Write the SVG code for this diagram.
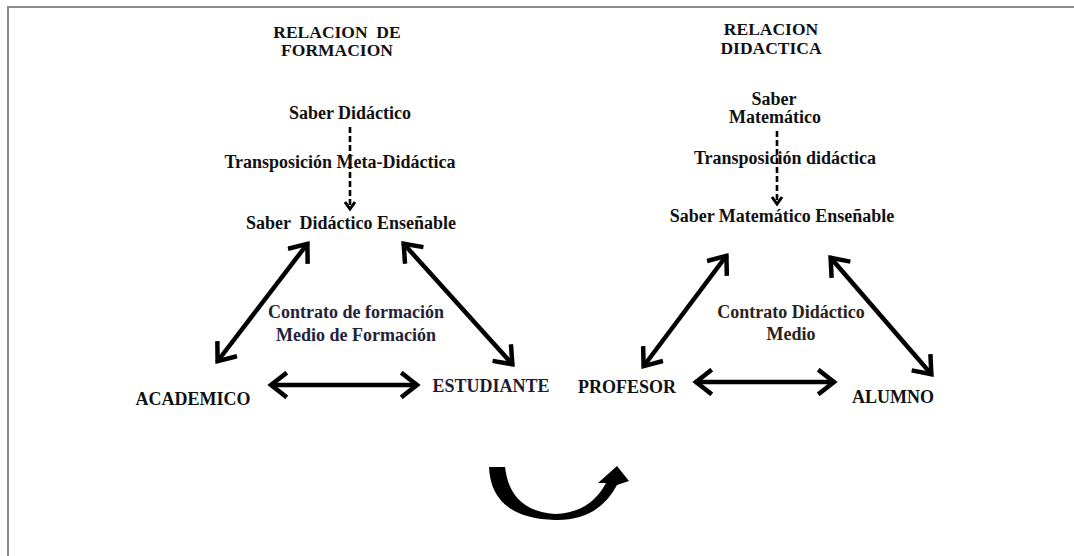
<svg xmlns="http://www.w3.org/2000/svg" width="1074" height="556" viewBox="0 0 1074 556">
<defs>
<style>
text{font-family:"Liberation Serif","Times New Roman",serif;font-weight:bold;fill:#111;text-anchor:middle;white-space:pre}
.t{font-size:17.5px}
.n{font-size:18px}
.thick{stroke:#000;stroke-width:4.5;fill:none;marker-start:url(#chev);marker-end:url(#chev)}
.dash{stroke:#000;stroke-width:2.6;fill:none;stroke-dasharray:6 3;marker-end:url(#dhead)}
.frame{stroke:#8a8a8a;stroke-width:2;fill:none}
</style>
<marker id="chev" viewBox="-20 -14 24 28" markerWidth="24" markerHeight="28" refX="0" refY="0" orient="auto-start-reverse" markerUnits="userSpaceOnUse">
<path d="M-15,-11 L-1,0 L-15,11" fill="none" stroke="#000" stroke-width="4.5" stroke-linejoin="miter" stroke-linecap="square"/>
</marker>
<marker id="dhead" viewBox="-10 -7 12 14" markerWidth="12" markerHeight="14" refX="0" refY="0" orient="auto" markerUnits="userSpaceOnUse">
<path d="M-7,-5 L0,0 L-7,5" fill="none" stroke="#000" stroke-width="3"/>
</marker>
</defs>
<rect width="1074" height="556" fill="#fff"/>
<path class="frame" d="M8,556 V7 H1074"/>

<g id="connectors">
<path class="dash" d="M350,127 V209"/>
<path class="dash" d="M777,131 V204"/>
<path class="thick" d="M217,362 L308,243"/>
<path class="thick" d="M403,243 L513,365"/>
<path class="thick" d="M270,385 L418,385"/>
<path class="thick" d="M643,367 L727,255"/>
<path class="thick" d="M830,257 L932,375"/>
<path class="thick" d="M695,382 L835,382"/>
<path id="cycle" fill="#000" d="M489,467 L505,467 Q510,511 555,514 Q590,513 606,483 L598,483 L617,466 L629,481 L617,485 Q598,521 555,520 Q491,518 489,467 Z"/>
</g>

<g id="title-formacion">
<text class="t" x="337" y="38" xml:space="preserve">RELACION  DE</text>
<text class="t" x="337" y="56">FORMACION</text>
</g>
<g id="title-didactica">
<text class="t" x="771" y="35">RELACION</text>
<text class="t" x="771" y="54">DIDACTICA</text>
</g>
<g id="saber-didactico"><text class="n" x="350" y="119">Saber Didáctico</text></g>
<g id="transp-meta"><text class="n" x="340" y="168">Transposición Meta-Didáctica</text></g>
<g id="saber-didactico-ens"><text class="n" x="351" y="229" xml:space="preserve">Saber  Didáctico Enseñable</text></g>
<g id="saber-matematico">
<text class="n" x="774" y="105">Saber</text>
<text class="n" x="775" y="123">Matemático</text>
</g>
<g id="transp-didactica"><text class="n" x="785" y="164">Transposición didáctica</text></g>
<g id="saber-matematico-ens"><text class="n" x="782" y="222">Saber Matemático Enseñable</text></g>
<g id="contrato-formacion">
<text class="n" x="356" y="318" style="fill:#22223a">Contrato de formación</text>
<text class="n" x="356" y="341" style="fill:#22223a">Medio de Formación</text>
</g>
<g id="contrato-didactico">
<text class="n" x="791" y="318" style="fill:#2a2218">Contrato Didáctico</text>
<text class="n" x="791" y="340" style="fill:#2a2218">Medio</text>
</g>
<g id="academico"><text class="n" x="193" y="405">ACADEMICO</text></g>
<g id="estudiante"><text class="n" x="491" y="392" style="fill:#221a33">ESTUDIANTE</text></g>
<g id="profesor"><text class="n" x="627" y="393">PROFESOR</text></g>
<g id="alumno"><text class="n" x="893" y="403">ALUMNO</text></g>
</svg>
